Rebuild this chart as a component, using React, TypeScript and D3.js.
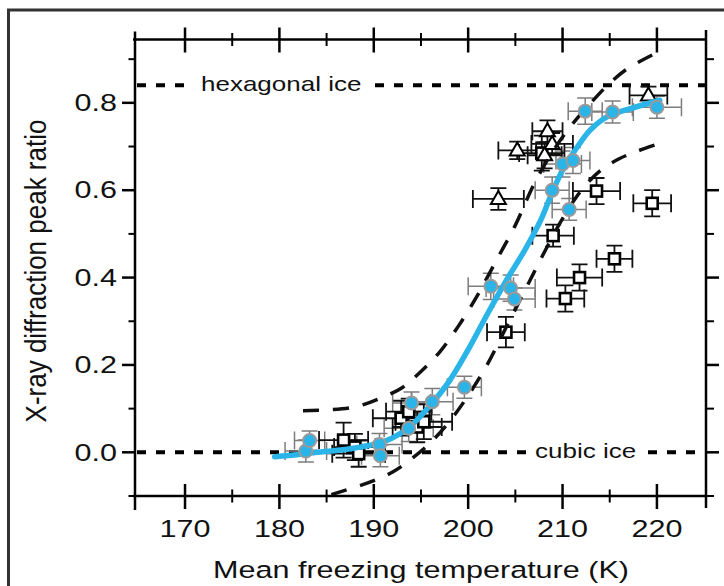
import React, { useRef, useEffect } from "react";
import * as d3 from "d3";

// blue filled circles (grey error bars)
const circleT = [182.8, 183.2, 190.6, 190.7, 193.7, 194.0, 196.2, 199.6, 202.4, 204.5, 204.9, 208.9, 210.0, 211.1, 210.7, 212.4, 215.3, 220.0];
const circleR = [0.003, 0.027, 0.018, -0.008, 0.055, 0.113, 0.116, 0.149, 0.38, 0.376, 0.351, 0.6, 0.66, 0.668, 0.556, 0.781, 0.779, 0.79];
const circleTErr = [2.2, 1.6, 2.4, 2.0, 2.6, 2.0, 2.2, 1.8, 2.4, 2.6, 2.2, 1.8, 2.0, 1.8, 1.8, 1.8, 2.2, 2.6];
const circleRErr = [0.025, 0.022, 0.025, 0.025, 0.03, 0.025, 0.03, 0.025, 0.03, 0.03, 0.025, 0.03, 0.03, 0.03, 0.025, 0.03, 0.025, 0.025];

// open squares
const squareT = [186.8, 188.0, 188.4, 192.9, 193.7, 194.6, 195.3, 204.0, 210.3, 211.8, 215.5, 209.0, 213.6, 219.5, 207.8];
const squareR = [0.028, 0.012, -0.003, 0.078, 0.093, 0.058, 0.07, 0.275, 0.352, 0.40, 0.443, 0.496, 0.598, 0.57, 0.685];
const squareTErr = [2.6, 2.2, 2.8, 3.0, 2.4, 2.6, 3.0, 2.0, 2.0, 2.4, 1.9, 2.2, 2.5, 2.0, 2.4];
const squareRErr = [0.04, 0.03, 0.03, 0.04, 0.03, 0.035, 0.04, 0.035, 0.03, 0.03, 0.03, 0.025, 0.03, 0.03, 0.04];

// open triangles
const triT = [203.2, 205.2, 208.4, 208.9, 208.1, 219.1];
const triR = [0.58, 0.691, 0.735, 0.706, 0.68, 0.817];
const triTErr = [2.7, 2.0, 1.6, 2.2, 1.8, 2.0];
const triRErr = [0.025, 0.02, 0.025, 0.025, 0.03, 0.02];

// fitted curve + confidence band
const fitT = [179.5, 182, 184, 186, 188, 190, 192, 194, 196, 198, 200, 202, 204, 206, 207.7, 209, 210.2, 211.6, 212.9, 214.7, 217.2, 220.3];
const fitR = [-0.01, -0.005, 0.0, 0.004, 0.01, 0.018, 0.033, 0.062, 0.108, 0.163, 0.235, 0.315, 0.392, 0.463, 0.532, 0.6, 0.654, 0.70, 0.737, 0.768, 0.787, 0.806];
const upperT = [182.5, 185, 188, 190.5, 193, 195, 197, 199, 201, 203, 205, 207, 209, 211, 213, 215, 217, 220];
const upperR = [0.095, 0.097, 0.104, 0.122, 0.148, 0.185, 0.23, 0.29, 0.36, 0.44, 0.52, 0.615, 0.69, 0.75, 0.80, 0.845, 0.88, 0.915];
const lowerT = [185.5, 188, 190, 192, 194, 196, 198, 200, 202, 204, 206, 208, 210, 212, 214, 216, 218, 220];
const lowerR = [-0.097, -0.08, -0.065, -0.045, -0.015, 0.022, 0.07, 0.13, 0.2, 0.285, 0.37, 0.455, 0.535, 0.6, 0.645, 0.672, 0.69, 0.705];

const xMajor = [170, 180, 190, 200, 210, 220];
const xMinor = [175, 185, 195, 205, 215];
const yMajor = [0, 0.2, 0.4, 0.6, 0.8];
const yMinor = [-0.1, 0.1, 0.3, 0.5, 0.7, 0.9];
const yLabels = ["0.0", "0.2", "0.4", "0.6", "0.8"];

const hexLevel = 0.84;
const cubicLevel = 0;

const FONT = "'Liberation Sans', Arial, Helvetica, sans-serif";
const BLUE = "#2ab4e8";
const SX = 1.3; // horizontal stretch of the source figure's text

export default function App() {
  const svgRef = useRef<SVGSVGElement>(null);

  useEffect(() => {
    const svg = d3.select(svgRef.current);
    svg.selectAll("*").remove();

    const x = d3.scaleLinear().domain([164.7, 225.2]).range([135, 706]);
    const y = d3.scaleLinear().domain([-0.1, 0.945]).range([496, 39.5]);
    const [x0, x1] = x.range();
    const [yb, yt] = y.range();

    // outer frame of the figure
    svg.append("path")
      .attr("d", `M8.5,586V10H724`)
      .attr("fill", "none").attr("stroke", "#333").attr("stroke-width", 3);

    const g = svg.append("g");

    // reference levels
    const level = (v: number, segs: [number, number][]) => {
      segs.forEach(([a, b]) => {
        g.append("line")
          .attr("x1", a).attr("x2", b)
          .attr("y1", y(v)).attr("y2", y(v))
          .attr("stroke", "#000").attr("stroke-width", 4)
          .attr("stroke-dasharray", "9,10");
      });
    };
    level(hexLevel, [[137, 190], [375, x1]]);
    level(cubicLevel, [[137, 527], [648, x1]]);

    const label = (txt: string, px: number, py: number, size: number, anchor = "start") => {
      g.append("g")
        .attr("transform", `translate(${px},${py}) scale(${SX},1)`)
        .append("text")
        .attr("text-anchor", anchor)
        .attr("dy", "0.35em")
        .style("font-family", FONT)
        .style("font-size", size + "px")
        .attr("fill", "#111")
        .text(txt);
    };
    label("hexagonal ice", 201, y(hexLevel) - 1, 20);
    label("cubic ice", 535, y(cubicLevel) - 1, 20);

    // error bars
    const errBars = (ts: number[], rs: number[], te: number[], re: number[], color: string, w: number) => {
      ts.forEach((t, i) => {
        const cx = x(t), cy = y(rs[i]);
        const xl = x(t - te[i]), xr = x(t + te[i]);
        const ya = y(rs[i] + re[i]), yz = y(rs[i] - re[i]);
        const d = `M${xl},${cy}H${xr}M${xl},${cy - 9}V${cy + 9}M${xr},${cy - 9}V${cy + 9}` +
          `M${cx},${ya}V${yz}M${cx - 8},${ya}H${cx + 8}M${cx - 8},${yz}H${cx + 8}`;
        g.append("path").attr("d", d).attr("fill", "none")
          .attr("stroke", color).attr("stroke-width", w);
      });
    };
    errBars(circleT, circleR, circleTErr, circleRErr, "#7d7d7d", 1.5);
    errBars(squareT, squareR, squareTErr, squareRErr, "#111", 1.8);
    errBars(triT, triR, triTErr, triRErr, "#111", 1.8);

    // open squares
    squareT.forEach((t, i) => {
      g.append("rect")
        .attr("x", x(t) - 5.5).attr("y", y(squareR[i]) - 5.5)
        .attr("width", 11).attr("height", 11)
        .attr("fill", "#fff").attr("stroke", "#000").attr("stroke-width", 2.6);
    });
    // open triangles
    triT.forEach((t, i) => {
      const cx = x(t), cy = y(triR[i]);
      g.append("path")
        .attr("d", `M${cx},${cy - 8}L${cx + 7.5},${cy + 5}L${cx - 7.5},${cy + 5}Z`)
        .attr("fill", "#fff").attr("stroke", "#000").attr("stroke-width", 2);
    });

    // confidence band
    const line = d3.line<[number, number]>()
      .x(d => x(d[0])).y(d => y(d[1]))
      .curve(d3.curveCatmullRom);
    const band = (ts: number[], rs: number[]) => {
      g.append("path")
        .attr("d", line(ts.map((t, i) => [t, rs[i]] as [number, number])))
        .attr("fill", "none").attr("stroke", "#111")
        .attr("stroke-width", 3.5)
        .attr("stroke-dasharray", "16,14");
    };
    band(upperT, upperR);
    band(lowerT, lowerR);

    // fitted curve
    g.append("path")
      .attr("d", line(fitT.map((t, i) => [t, fitR[i]] as [number, number])))
      .attr("fill", "none").attr("stroke", BLUE)
      .attr("stroke-width", 5.5).attr("stroke-linecap", "round");

    // blue circles
    circleT.forEach((t, i) => {
      g.append("circle")
        .attr("cx", x(t)).attr("cy", y(circleR[i])).attr("r", 6.5)
        .attr("fill", BLUE).attr("stroke", "#9a9a9a").attr("stroke-width", 2);
    });

    // axes frame
    const ax = svg.append("g").attr("stroke", "#000").attr("stroke-width", 2.5).attr("fill", "none");
    ax.append("line").attr("x1", x0).attr("x2", x0).attr("y1", 31.5).attr("y2", 510);
    ax.append("line").attr("x1", x1).attr("x2", x1).attr("y1", 30).attr("y2", 508);
    ax.append("line").attr("x1", 133).attr("x2", x1 + 1).attr("y1", yt).attr("y2", yt);
    ax.append("line").attr("x1", 133).attr("x2", x1 + 1).attr("y1", yb).attr("y2", yb);

    // x ticks (cross the axis on top and bottom)
    [yt, yb].forEach(ay => {
      xMajor.forEach(t => ax.append("line").attr("x1", x(t)).attr("x2", x(t))
        .attr("y1", ay - 12).attr("y2", ay + 13));
      xMinor.forEach(t => ax.append("line").attr("x1", x(t)).attr("x2", x(t))
        .attr("y1", ay - 6.5).attr("y2", ay + 6.5).attr("stroke-width", 2));
    });
    // y ticks (outside on left and right)
    yMajor.forEach(v => {
      ax.append("line").attr("x1", x0 - 13).attr("x2", x0).attr("y1", y(v)).attr("y2", y(v));
      ax.append("line").attr("x1", x1).attr("x2", x1 + 13).attr("y1", y(v)).attr("y2", y(v));
    });
    yMinor.forEach(v => {
      ax.append("line").attr("x1", x0 - 6.5).attr("x2", x0).attr("y1", y(v)).attr("y2", y(v)).attr("stroke-width", 2);
      ax.append("line").attr("x1", x1).attr("x2", x1 + 8).attr("y1", y(v)).attr("y2", y(v)).attr("stroke-width", 2);
    });

    // tick labels
    xMajor.forEach(t => label(String(t), x(t), 529, 23.5, "middle"));
    yMajor.forEach((v, i) => label(yLabels[i], 117, y(v), 23.5, "end"));

    // axis titles
    label("Mean freezing temperature (K)", 421, 570, 23.5, "middle");
    svg.append("g")
      .attr("transform", `translate(36,271) scale(1.15,1) rotate(-90)`)
      .append("text")
      .attr("text-anchor", "middle")
      .attr("dy", "0.35em")
      .style("font-family", FONT)
      .style("font-size", "26px")
      .attr("fill", "#111")
      .text("X-ray diffraction peak ratio");
  }, []);

  return (
    <svg ref={svgRef} width={724} height={586}
      style={{ position: "absolute", left: 0, top: 0, background: "#fff", display: "block" }} />
  );
}
